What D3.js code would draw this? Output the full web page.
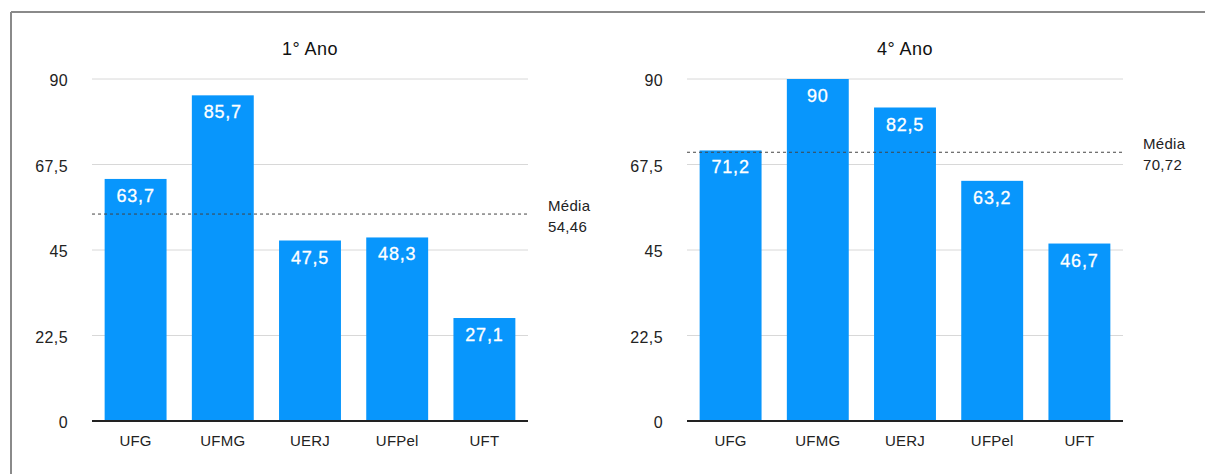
<!DOCTYPE html>
<html>
<head>
<meta charset="utf-8">
<script src="https://cdn.jsdelivr.net/npm/d3@7"></script>
<style>
  body { margin: 0; background: #fff; }
  svg { display: block; font-family: "Liberation Sans", Arial, Helvetica, sans-serif; }
</style>
</head>
<body>
<div id="chart"></div>
<script>
const universities = ["UFG", "UFMG", "UERJ", "UFPel", "UFT"];
const valuesYear1 = [63.7, 85.7, 47.5, 48.3, 27.1];
const valuesYear4 = [71.2, 90, 82.5, 63.2, 46.7];
const titles = ["1° Ano", "4° Ano"];
const means = [54.46, 70.72];
const yTicks = [0, 22.5, 45, 67.5, 90];

const fmt = v => String(v).replace(".", ",");

const width = 1205, height = 474;
const svg = d3.select("#chart").append("svg")
  .attr("width", width)
  .attr("height", height);

// frame (only top and left edges visible)
svg.append("line").attr("x1", 11).attr("x2", width).attr("y1", 12).attr("y2", 12)
  .attr("stroke", "#8a8a8a").attr("stroke-width", 2);
svg.append("line").attr("x1", 11).attr("x2", 11).attr("y1", 12).attr("y2", height)
  .attr("stroke", "#8a8a8a").attr("stroke-width", 2);

const y = d3.scaleLinear().domain([0, 90]).range([421, 79]);

function drawPanel(left, title, values, mean) {
  const x = d3.scaleBand()
    .domain(universities)
    .range([left, left + 436])
    .paddingInner(0.29)
    .paddingOuter(0.145);

  const g = svg.append("g");

  // gridlines
  g.append("g")
    .selectAll("line")
    .data(yTicks.slice(1))
    .join("line")
    .attr("x1", left).attr("x2", left + 436)
    .attr("y1", d => y(d)).attr("y2", d => y(d))
    .attr("stroke", "#d8d8d8").attr("stroke-width", 1);

  // y tick labels
  g.append("g")
    .selectAll("text")
    .data(yTicks)
    .join("text")
    .attr("x", left - 24)
    .attr("y", d => y(d) + 7)
    .attr("text-anchor", "end")
    .attr("font-size", 16)
    .attr("letter-spacing", 0.4)
    .attr("fill", "#222")
    .text(d => fmt(d));

  // bars
  g.append("g")
    .selectAll("rect")
    .data(values)
    .join("rect")
    .attr("x", (d, i) => x(universities[i]))
    .attr("y", d => y(d))
    .attr("width", x.bandwidth())
    .attr("height", d => y(0) - y(d))
    .attr("fill", "#0896fc");

  // value labels
  g.append("g")
    .selectAll("text")
    .data(values)
    .join("text")
    .attr("x", (d, i) => x(universities[i]) + x.bandwidth() / 2)
    .attr("y", d => y(d) + 23)
    .attr("text-anchor", "middle")
    .attr("font-size", 18)
    .attr("letter-spacing", 0.8)
    .attr("fill", "#fff")
    .attr("stroke", "#fff")
    .attr("stroke-width", 0.3)
    .text(d => fmt(d));

  // baseline
  g.append("line")
    .attr("x1", left).attr("x2", left + 436)
    .attr("y1", y(0)).attr("y2", y(0))
    .attr("stroke", "#222").attr("stroke-width", 2);

  // x labels
  g.append("g")
    .selectAll("text")
    .data(universities)
    .join("text")
    .attr("x", d => x(d) + x.bandwidth() / 2)
    .attr("y", 446)
    .attr("text-anchor", "middle")
    .attr("font-size", 15)
    .attr("letter-spacing", 0.2)
    .attr("fill", "#222")
    .text(d => d);

  // mean line
  g.append("line")
    .attr("x1", left).attr("x2", left + 436)
    .attr("y1", y(mean)).attr("y2", y(mean))
    .attr("stroke", "#444").attr("stroke-width", 1)
    .attr("stroke-dasharray", "3,3");

  g.append("text")
    .attr("x", left + 456)
    .attr("y", y(mean) - 3)
    .attr("font-size", 15)
    .attr("letter-spacing", 0.3)
    .attr("fill", "#222")
    .text("Média");
  g.append("text")
    .attr("x", left + 456)
    .attr("y", y(mean) + 18)
    .attr("font-size", 15)
    .attr("letter-spacing", 0.3)
    .attr("fill", "#222")
    .text(fmt(mean));

  // title
  g.append("text")
    .attr("x", left + 218)
    .attr("y", 55)
    .attr("text-anchor", "middle")
    .attr("font-size", 18)
    .attr("letter-spacing", 0.5)
    .attr("fill", "#111")
    .text(title);
}

drawPanel(92, titles[0], valuesYear1, means[0]);
drawPanel(687, titles[1], valuesYear4, means[1]);
</script>
</body>
</html>
